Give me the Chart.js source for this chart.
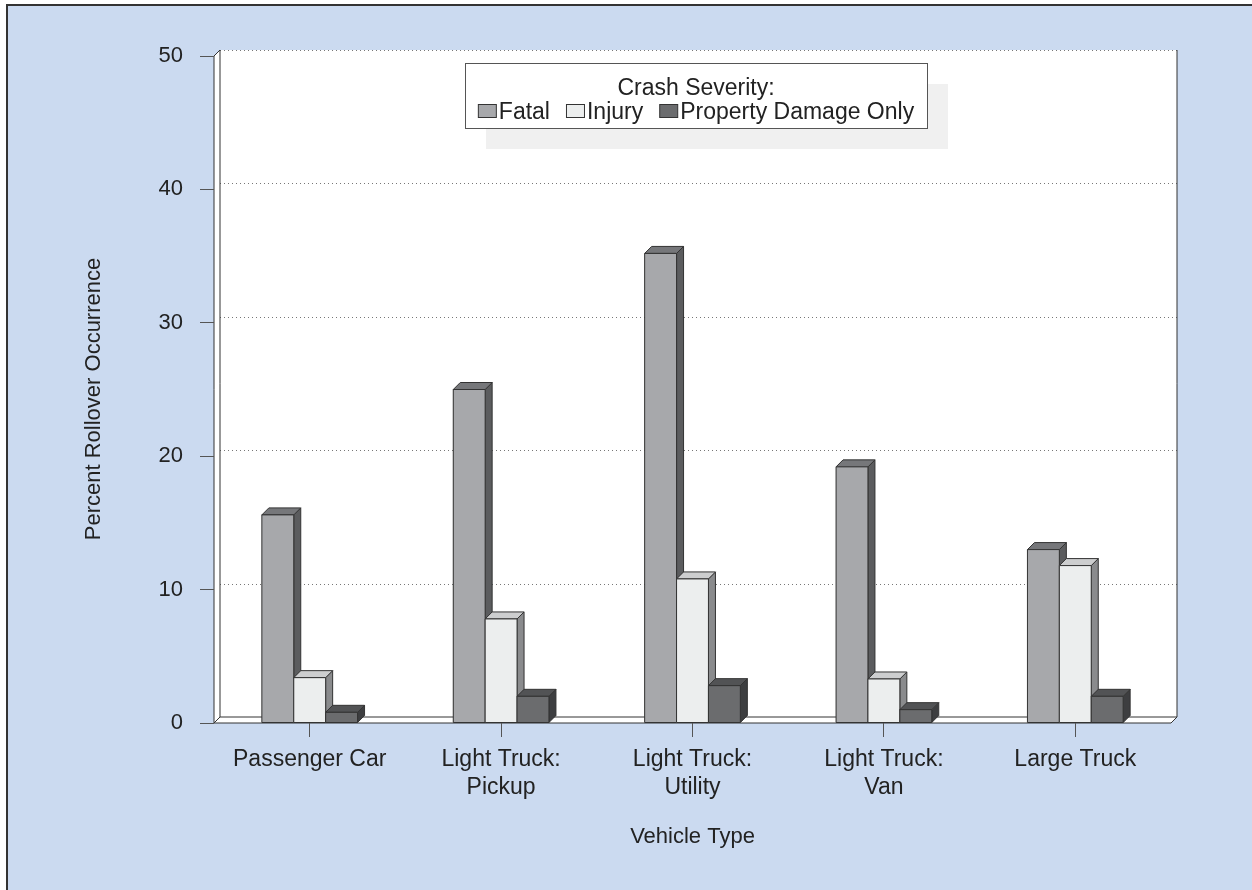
<!DOCTYPE html>
<html>
<head>
<meta charset="utf-8">
<script src="https://cdn.jsdelivr.net/npm/chart.js@4.4.1/dist/chart.umd.min.js"></script>
<style>
  html, body { margin: 0; padding: 0; background: #fff; }
  canvas { display: block; }
</style>
</head>
<body>
<canvas id="myChart" width="1252" height="890"></canvas>
<script>
const vehicleTypes = ['Passenger Car', ['Light Truck:', 'Pickup'], ['Light Truck:', 'Utility'], ['Light Truck:', 'Van'], 'Large Truck'];
const fatal = [15.6, 25.0, 35.2, 19.2, 13.0];
const injury = [3.4, 7.8, 10.8, 3.3, 11.8];
const propertyDamage = [0.8, 2.0, 2.8, 1.0, 2.0];
const yTicks = [0, 10, 20, 30, 40, 50];

const wallDepth = 6;
const barDepth = 7;
const textColor = '#222';

Chart.defaults.font.family = "'Liberation Sans', Arial, sans-serif";

function poly(ctx, pts, fill) {
    ctx.beginPath();
    ctx.moveTo(pts[0][0], pts[0][1]);
    for (let k = 1; k < pts.length; k++) ctx.lineTo(pts[k][0], pts[k][1]);
    ctx.closePath();
    ctx.fillStyle = fill;
    ctx.fill();
    ctx.stroke();
}

// page background, back wall, floor and dotted grid
const frame3d = {
    id: 'frame3d',
    beforeDraw(chart) {
        const ctx = chart.ctx;
        const { left, right, top, bottom } = chart.chartArea;
        const d = wallDepth;
        ctx.save();
        ctx.fillStyle = '#cbdaf0';
        ctx.fillRect(7, 5, chart.width, chart.height);
        ctx.strokeStyle = '#333';
        ctx.lineWidth = 2;
        ctx.beginPath();
        ctx.moveTo(7, chart.height);
        ctx.lineTo(7, 5);
        ctx.lineTo(chart.width, 5);
        ctx.stroke();

        ctx.fillStyle = '#fff';
        ctx.beginPath();
        ctx.moveTo(left, top);
        ctx.lineTo(left + d, top - d);
        ctx.lineTo(right + d, top - d);
        ctx.lineTo(right + d, bottom - d);
        ctx.lineTo(right, bottom);
        ctx.lineTo(left, bottom);
        ctx.closePath();
        ctx.fill();

        const y = chart.scales.y;
        ctx.strokeStyle = '#777';
        ctx.lineWidth = 1;
        ctx.setLineDash([1, 3]);
        y.ticks.forEach(t => {
            if (t.value === 0) return;
            const py = Math.round(y.getPixelForValue(t.value) - d) + 0.5;
            ctx.beginPath();
            ctx.moveTo(left + d, py);
            ctx.lineTo(right + d, py);
            ctx.stroke();
        });
        ctx.setLineDash([]);

        ctx.strokeStyle = '#333';
        ctx.beginPath();
        ctx.moveTo(left + d, top - d);
        ctx.lineTo(left + d, bottom - d);
        ctx.lineTo(right + d, bottom - d);
        ctx.lineTo(right + d, top - d);
        ctx.moveTo(left, top);
        ctx.lineTo(left + d, top - d);
        ctx.moveTo(left, top);
        ctx.lineTo(left, bottom);
        ctx.lineTo(right, bottom);
        ctx.lineTo(right + d, bottom - d);
        ctx.moveTo(left, bottom);
        ctx.lineTo(left + d, bottom - d);
        ctx.stroke();
        ctx.restore();
    },
    afterDatasetsDraw(chart) {
        const ctx = chart.ctx;
        const d = barDepth;
        ctx.save();
        ctx.lineWidth = 1;
        ctx.strokeStyle = '#333';
        for (let j = 0; j < chart.data.labels.length; j++) {
            chart.data.datasets.forEach((ds, i) => {
                const bar = chart.getDatasetMeta(i).data[j];
                const { x, y, base, width } = bar.getProps(['x', 'y', 'base', 'width'], true);
                const l = x - width / 2, r = x + width / 2;
                poly(ctx, [[r, y], [r + d, y - d], [r + d, base - d], [r, base]], ds.sideColor);
                poly(ctx, [[l, y], [l + d, y - d], [r + d, y - d], [r, y]], ds.topColor);
                poly(ctx, [[l, y], [r, y], [r, base], [l, base]], ds.backgroundColor);
            });
        }
        ctx.restore();
    },
    afterDraw(chart) {
        const ctx = chart.ctx;
        ctx.save();
        // y axis title
        ctx.fillStyle = textColor;
        ctx.font = "22px 'Liberation Sans', Arial, sans-serif";
        ctx.textAlign = 'center';
        ctx.textBaseline = 'middle';
        ctx.translate(94, 399);
        ctx.rotate(-Math.PI / 2);
        ctx.fillText('Percent Rollover Occurrence', 0, 0);
        ctx.restore();

        // legend box with shadow
        const bx = 465, by = 63, bw = 462, bh = 65;
        ctx.save();
        ctx.fillStyle = '#f0f0f0';
        ctx.fillRect(bx + 21, by + 21, bw, bh);
        ctx.fillStyle = '#fff';
        ctx.fillRect(bx, by, bw, bh);
        ctx.strokeStyle = '#555';
        ctx.lineWidth = 1;
        ctx.strokeRect(bx + 0.5, by + 0.5, bw, bh);

        ctx.font = "23px 'Liberation Sans', Arial, sans-serif";
        ctx.fillStyle = textColor;
        ctx.textBaseline = 'alphabetic';
        ctx.textAlign = 'center';
        ctx.fillText('Crash Severity:', bx + bw / 2, by + 32);

        const sw = 18, gap = 3, itemGap = 16;
        const items = chart.data.datasets;
        let total = 0;
        items.forEach((ds, i) => {
            total += sw + gap + ctx.measureText(ds.label).width + (i < items.length - 1 ? itemGap : 0);
        });
        let cx = bx + (bw - total) / 2;
        ctx.textAlign = 'left';
        items.forEach(ds => {
            ctx.fillStyle = ds.backgroundColor;
            ctx.fillRect(cx + 0.5, by + 41.5, sw, 13);
            ctx.strokeStyle = '#333';
            ctx.strokeRect(cx + 0.5, by + 41.5, sw, 13);
            ctx.fillStyle = textColor;
            ctx.fillText(ds.label, cx + sw + gap, by + 56);
            cx += sw + gap + ctx.measureText(ds.label).width + itemGap;
        });
        ctx.restore();
    }
};

new Chart(document.getElementById('myChart'), {
    type: 'bar',
    data: {
        labels: vehicleTypes,
        datasets: [
            { label: 'Fatal', data: fatal, backgroundColor: '#a7a8ab', topColor: '#76777a', sideColor: '#5b5c5e', borderColor: '#333', borderWidth: 1 },
            { label: 'Injury', data: injury, backgroundColor: '#eceeee', topColor: '#cdcecf', sideColor: '#8a8b8d', borderColor: '#333', borderWidth: 1 },
            { label: 'Property Damage Only', data: propertyDamage, backgroundColor: '#6b6c6e', topColor: '#525355', sideColor: '#3d3e40', borderColor: '#333', borderWidth: 1 }
        ]
    },
    options: {
        responsive: false,
        animation: false,
        devicePixelRatio: 1,
        categoryPercentage: 0.5,
        barPercentage: 1,
        layout: { padding: { left: 0, top: 56, right: 81, bottom: 0 } },
        scales: {
            x: {
                grid: { drawOnChartArea: false, offset: false, tickLength: 14, color: '#555' },
                border: { display: false },
                ticks: { font: { size: 23 }, color: textColor, padding: 9 },
                title: { display: true, text: 'Vehicle Type', font: { size: 22 }, color: textColor, padding: { top: 0, bottom: 40 } },
                afterFit(scale) { scale.height = 167; }
            },
            y: {
                min: 0,
                max: 50,
                afterBuildTicks(scale) { scale.ticks = yTicks.map(v => ({ value: v })); },
                grid: { drawOnChartArea: false, tickLength: 14, color: '#555' },
                border: { display: false },
                ticks: { font: { size: 22 }, color: textColor, padding: 17 },
                afterFit(scale) { scale.width = 214; }
            }
        },
        plugins: {
            legend: { display: false },
            tooltip: { enabled: false }
        }
    },
    plugins: [frame3d]
});
</script>
</body>
</html>
